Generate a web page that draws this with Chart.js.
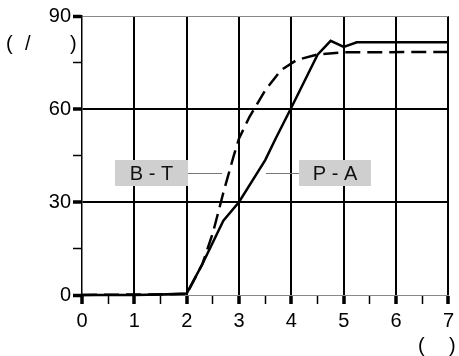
<!DOCTYPE html>
<html>
<head>
<meta charset="utf-8">
<script src="https://cdn.jsdelivr.net/npm/chart.js@4.4.1/dist/chart.umd.min.js"></script>
<style>html,body{margin:0;padding:0;background:#fff;}</style>
</head>
<body>
<canvas id="chart" width="459" height="356"></canvas>
<script>
// P - A (solid) and B - T (dashed) curves
const paX = [0, 1, 1.5, 2, 2.3, 2.7, 3, 3.5, 3.7, 4, 4.5, 4.75, 5, 5.25, 7];
const paY = [0, 0, 0.2, 0.5, 10, 24, 30, 43.5, 50.5, 60.5, 77.5, 82, 80, 81.5, 81.5];
const btX = [0, 2, 2.3, 2.5, 2.7, 2.9, 3, 3.2, 3.5, 3.8, 4.1, 4.5, 5, 7];
const btY = [0, 0.3, 10, 20, 33, 45, 50.5, 57.5, 66, 72.5, 75.8, 77.6, 78.3, 78.4];
const seriesNames = ['P - A', 'B - T'];
const xTickLabels = [0, 1, 2, 3, 4, 5, 6, 7];
const yTickLabels = [0, 30, 60, 90];

const isInt = v => Math.abs(v - Math.round(v)) < 1e-6;
const font = '"Liberation Sans", Arial, sans-serif';

const labelPlugin = {
  id: 'labels',
  afterDraw(chart) {
    const c = chart.ctx;
    c.save();
    c.font = '20px ' + font;
    c.fillStyle = '#000';
    c.textBaseline = 'middle';
    c.textAlign = 'left';
    // axis titles
    c.fillText('(', 6, 44);
    c.fillText('/', 25, 44);
    c.fillText(')', 70, 44);
    c.fillText('(', 418, 346);
    c.fillText(')', 449, 346);

    // boxed series labels with leader lines
    const boxes = [
      {text: seriesNames[1], x: 115, y: 160, w: 73, lx1: 188, lx2: 222},
      {text: seriesNames[0], x: 299, y: 160, w: 72, lx1: 266, lx2: 299}
    ];
    boxes.forEach(b => {
      c.fillStyle = '#cfcfcf';
      c.fillRect(b.x, b.y, b.w, 26);
      c.strokeStyle = '#777';
      c.lineWidth = 1;
      c.beginPath();
      c.moveTo(b.lx1, b.y + 13.5);
      c.lineTo(b.lx2, b.y + 13.5);
      c.stroke();
      c.fillStyle = '#111';
      c.textAlign = 'center';
      c.fillText(b.text, b.x + b.w / 2, b.y + 14);
    });
    c.restore();
  }
};

new Chart(document.getElementById('chart'), {
  type: 'line',
  data: {
    datasets: [{
      label: seriesNames[0],
      data: paX.map((x, i) => ({x: x, y: paY[i]})),
      borderColor: '#000',
      borderWidth: 2.5,
      pointRadius: 0,
      tension: 0,
      clip: 4
    }, {
      label: seriesNames[1],
      data: btX.map((x, i) => ({x: x, y: btY[i]})),
      borderColor: '#000',
      borderWidth: 2.5,
      borderDash: [15, 7],
      pointRadius: 0,
      tension: 0,
      clip: 4
    }]
  },
  options: {
    responsive: false,
    animation: false,
    layout: {padding: {left: 0, top: 16, right: 7, bottom: 0}},
    plugins: {legend: {display: false}, tooltip: {enabled: false}},
    scales: {
      x: {
        type: 'linear',
        min: 0, max: 7,
        afterFit: s => { s.height = 61; },
        ticks: {
          stepSize: 0.5,
          autoSkip: false,
          maxRotation: 0,
          padding: 5,
          color: '#000',
          font: {size: 20, family: font},
          callback: v => (isInt(v) && xTickLabels.includes(v)) ? v : ''
        },
        grid: {
          color: ctx => (isInt(ctx.tick.value) && ctx.tick.value > 0) ? '#000' : 'rgba(0,0,0,0)',
          lineWidth: ctx => isInt(ctx.tick.value) ? 2 : 1,
          tickColor: '#000',
          tickWidth: ctx => isInt(ctx.tick.value) ? 3.5 : 1.5,
          tickLength: 9
        },
        border: {display: true, color: '#888', width: 1}
      },
      y: {
        min: 0, max: 90,
        afterFit: s => { s.width = 82; },
        ticks: {
          stepSize: 15,
          autoSkip: false,
          padding: 2,
          color: '#000',
          font: {size: 20, family: font},
          callback: v => yTickLabels.includes(v) ? v : ''
        },
        grid: {
          color: ctx => {
            const v = ctx.tick.value;
            if (v === 30 || v === 60) return '#000';
            if (v === 90) return '#888';
            return 'rgba(0,0,0,0)';
          },
          lineWidth: ctx => (ctx.tick.value === 30 || ctx.tick.value === 60) ? 2 : 1,
          tickColor: '#000',
          tickWidth: ctx => (ctx.tick.value % 30 === 0) ? 3.5 : 1.5,
          tickLength: 9
        },
        border: {display: true, color: '#000', width: 1.5}
      }
    }
  },
  plugins: [labelPlugin]
});
</script>
</body>
</html>
